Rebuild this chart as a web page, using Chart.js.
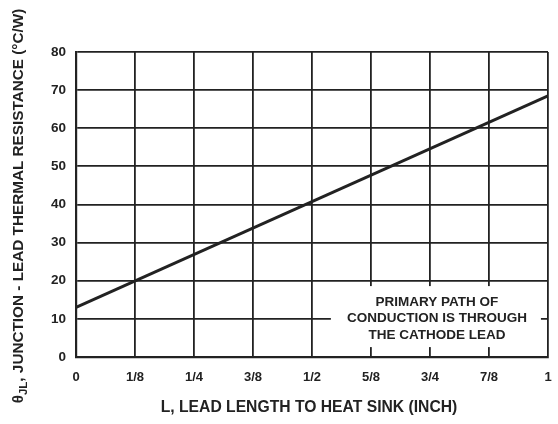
<!DOCTYPE html>
<html>
<head>
<meta charset="utf-8">
<script src="https://cdn.jsdelivr.net/npm/chart.js@4/dist/chart.umd.min.js"></script>
<style>
  html, body { margin: 0; padding: 0; background: #fff; }
  #wrap { width: 558px; height: 424px; }
</style>
</head>
<body>
<div id="wrap"><canvas id="leadChart" width="558" height="424"></canvas></div>
<script>
// Lead length (inch) vs junction-lead thermal resistance
const leadLength = [0, 1];
const thermalResistance = [13, 68.5];
const xTickLabels = ['0', '1/8', '1/4', '3/8', '1/2', '5/8', '3/4', '7/8', '1'];
const yTicks = [0, 10, 20, 30, 40, 50, 60, 70, 80];
const noteLines = ['PRIMARY PATH OF', 'CONDUCTION IS THROUGH', 'THE CATHODE LEAD'];

const ink = '#222';
const fontFamily = '"Liberation Sans", Arial, sans-serif';

// titles + note box drawn by hand (subscript in y title)
const decorations = {
    id: 'decorations',
    beforeDatasetsDraw(chart) {
        const ctx = chart.ctx;
        const x = chart.scales.x, y = chart.scales.y;
        // white note box over the grid, lower right
        const left = x.getPixelForValue(0.54), right = x.getPixelForValue(0.985);
        const top = y.getPixelForValue(18.6), bottom = y.getPixelForValue(2.6);
        ctx.save();
        ctx.fillStyle = '#fff';
        ctx.fillRect(left, top, right - left, bottom - top);
        ctx.fillStyle = ink;
        ctx.font = 'bold 13.5px ' + fontFamily;
        ctx.textAlign = 'center';
        ctx.textBaseline = 'middle';
        const cx = (left + right) / 2 + 1;
        noteLines.forEach((t, i) => ctx.fillText(t, cx, top + 16 + i * 16.5));
        ctx.restore();
    },
    afterDraw(chart) {
        const ctx = chart.ctx;
        ctx.save();
        ctx.fillStyle = ink;
        ctx.font = 'bold 15.7px ' + fontFamily;
        ctx.textAlign = 'center';
        ctx.textBaseline = 'middle';
        ctx.fillText('L, LEAD LENGTH TO HEAT SINK (INCH)', 309, 408);

        // rotated y title
        ctx.translate(19, 206);
        ctx.rotate(-Math.PI / 2);
        const main = ', JUNCTION - LEAD THERMAL RESISTANCE (\u00B0C/W)';
        ctx.textAlign = 'left';
        const fMain = 'bold 15.3px ' + fontFamily, fSub = 'bold 11.5px ' + fontFamily;
        ctx.font = fMain;
        const wTheta = ctx.measureText('\u03B8').width;
        const wMain = ctx.measureText(main).width;
        ctx.font = fSub;
        const wSub = ctx.measureText('JL').width;
        let sx = -(wTheta + wSub + wMain) / 2;
        ctx.font = fMain;
        ctx.fillText('\u03B8', sx, 0);
        sx += wTheta;
        ctx.font = fSub;
        ctx.fillText('JL', sx, 5);
        sx += wSub;
        ctx.font = fMain;
        ctx.fillText(main, sx, 0);
        ctx.restore();
    }
};

new Chart(document.getElementById('leadChart').getContext('2d'), {
    type: 'scatter',
    data: {
        datasets: [{
            data: leadLength.map((v, i) => ({ x: v, y: thermalResistance[i] })),
            showLine: true,
            borderColor: ink,
            borderWidth: 3,
            pointRadius: 0,
            fill: false
        }]
    },
    options: {
        responsive: false,
        animation: false,
        layout: { padding: { left: 0, right: 10, top: 52, bottom: 0 } },
        plugins: {
            legend: { display: false },
            tooltip: { enabled: false }
        },
        scales: {
            x: {
                type: 'linear',
                min: 0,
                max: 1,
                afterFit(scale) {
                    scale.height = 67;
                    scale.paddingLeft = 0;
                    scale.paddingRight = 0;
                },
                afterBuildTicks(scale) {
                    scale.ticks = xTickLabels.map((_, i) => ({ value: i / 8 }));
                },
                ticks: {
                    color: ink,
                    padding: 13,
                    maxRotation: 0,
                    autoSkip: false,
                    font: { family: fontFamily, weight: 'bold', size: 13 },
                    callback: (v, i) => xTickLabels[i]
                },
                grid: { color: ink, lineWidth: 1.8, drawTicks: false },
                border: { color: ink, width: 2.2 }
            },
            y: {
                type: 'linear',
                min: 0,
                max: 80,
                afterFit(scale) {
                    scale.width = 76;
                    scale.paddingTop = 0;
                    scale.paddingBottom = 0;
                },
                afterBuildTicks(scale) {
                    scale.ticks = yTicks.map(v => ({ value: v }));
                },
                ticks: {
                    color: ink,
                    padding: 10,
                    font: { family: fontFamily, weight: 'bold', size: 13.5 }
                },
                grid: { color: ink, lineWidth: 1.8, drawTicks: false },
                border: { color: ink, width: 2.2 }
            }
        }
    },
    plugins: [decorations]
});
</script>
</body>
</html>
